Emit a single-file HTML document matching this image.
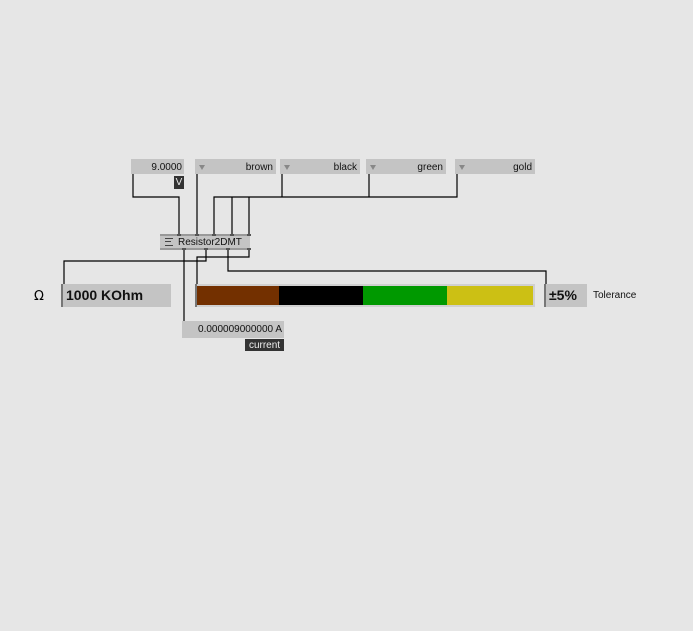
<!DOCTYPE html>
<html><head><style>
body{margin:0;width:693px;height:631px;background:#e6e6e6;position:relative;overflow:hidden;font-family:"Liberation Sans",sans-serif}
.b{position:absolute;background:#c4c4c4;font-size:10px;color:#111}
.d{position:absolute;background:#333;color:#eee;font-size:10px;text-align:center}
.p{position:absolute;width:4px;height:2px;background:#555}
.tri{position:absolute;left:4px;top:6px;width:0;height:0;border-left:3px solid transparent;border-right:3px solid transparent;border-top:5px solid #888}
</style></head><body>
<svg width="693" height="631" style="position:absolute;left:0;top:0" fill="none" stroke="#000" stroke-width="1.2">
<polyline points="133,174 133,197 179,197 179,234"/>
<line x1="197" y1="174" x2="197" y2="234"/>
<polyline points="457,174 457,197 214,197 214,234"/>
<line x1="282" y1="174" x2="282" y2="197"/>
<line x1="369" y1="174" x2="369" y2="197"/>
<line x1="232" y1="197" x2="232" y2="234"/>
<line x1="249" y1="197" x2="249" y2="234"/>
<line x1="184" y1="250" x2="184" y2="321"/>
<polyline points="206,250 206,261 64,261 64,284"/>
<polyline points="249,250 249,257 197,257 197,284"/>
<polyline points="228,250 228,271 546,271 546,284"/>
</svg>
<div class="b" style="left:131px;top:159px;width:53px;height:15px;text-align:right;line-height:17px;padding-right:2px;box-sizing:border-box">9.0000</div>
<div class="d" style="left:174px;top:176px;width:10px;height:13px;line-height:14px">V</div>
<div class="b" style="left:195px;top:159px;width:81px;height:15px;text-align:right;line-height:17px;padding-right:3px;box-sizing:border-box"><span class="tri"></span>brown</div>
<div class="b" style="left:280px;top:159px;width:80px;height:15px;text-align:right;line-height:17px;padding-right:3px;box-sizing:border-box"><span class="tri"></span>black</div>
<div class="b" style="left:366px;top:159px;width:80px;height:15px;text-align:right;line-height:17px;padding-right:3px;box-sizing:border-box"><span class="tri"></span>green</div>
<div class="b" style="left:455px;top:159px;width:80px;height:15px;text-align:right;line-height:17px;padding-right:3px;box-sizing:border-box"><span class="tri"></span>gold</div>
<div class="b" style="left:160px;top:234px;width:90px;height:16px;line-height:13px;border-top:2px solid #999;border-bottom:2px solid #999;box-sizing:border-box;padding-left:18px;font-size:10px">Resistor2DMT<span style="position:absolute;left:5px;top:2px;width:8px;height:6px;border-top:1px solid #444;border-bottom:1px solid #444"></span><span style="position:absolute;left:5px;top:5px;width:6px;height:1px;background:#444"></span></div>
<div class="p" style="left:177px;top:234px"></div><div class="p" style="left:195px;top:234px"></div><div class="p" style="left:212px;top:234px"></div><div class="p" style="left:230px;top:234px"></div><div class="p" style="left:247px;top:234px"></div>
<div class="p" style="left:182px;top:248px"></div><div class="p" style="left:204px;top:248px"></div><div class="p" style="left:226px;top:248px"></div><div class="p" style="left:247px;top:248px"></div>
<div style="position:absolute;left:34px;top:289px;font-size:13px;font-family:'DejaVu Sans',sans-serif">Ω</div>
<div class="b" style="left:61px;top:284px;width:110px;height:23px;line-height:22px;font-size:14px;font-weight:bold;padding-left:3px;box-sizing:border-box;border-left:2px solid #777">1000 KOhm</div>
<div style="position:absolute;left:195px;top:284px;width:340px;height:23px;background:#d0d0d0;border-left:2px solid #777;box-sizing:border-box">
<div style="position:absolute;left:0;top:2px;width:82px;height:19px;background:#733000"></div>
<div style="position:absolute;left:82px;top:2px;width:84px;height:19px;background:#000"></div>
<div style="position:absolute;left:166px;top:2px;width:84px;height:19px;background:#009900"></div>
<div style="position:absolute;left:250px;top:2px;width:86px;height:19px;background:#ccc014"></div>
</div>
<div class="b" style="left:544px;top:284px;width:43px;height:23px;line-height:22px;font-size:14px;font-weight:bold;padding-left:3px;box-sizing:border-box;border-left:2px solid #777">±5%</div>
<div style="position:absolute;left:593px;top:290px;font-size:10px;color:#111">Tolerance</div>
<div class="b" style="left:182px;top:321px;width:102px;height:17px;line-height:18px;text-align:right;padding-right:2px;box-sizing:border-box">0.000009000000 A</div>
<div class="d" style="left:245px;top:339px;width:39px;height:12px;line-height:13px">current</div>
</body></html>
